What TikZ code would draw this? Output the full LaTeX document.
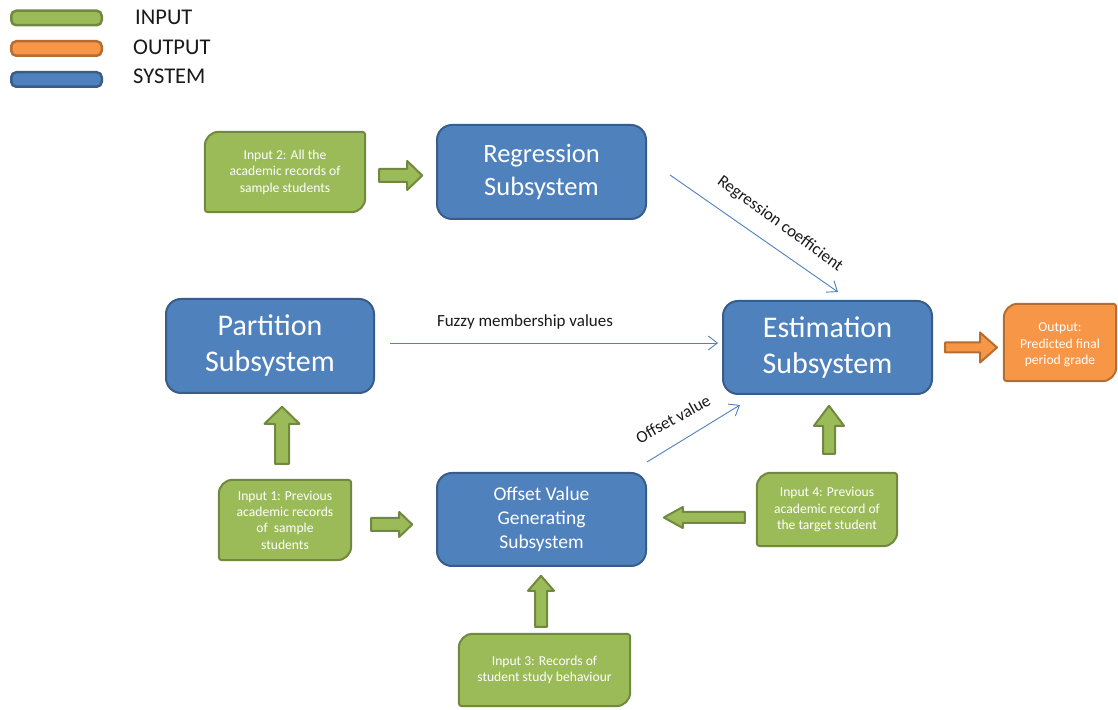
\documentclass[tikz,border=0pt]{standalone}
\usepackage{fontspec}
\setmainfont{Carlito}
\usetikzlibrary{arrows.meta,calc,backgrounds}
\definecolor{sysfill}{HTML}{4F81BD}
\definecolor{sysline}{HTML}{385D8A}
\definecolor{infill}{HTML}{9BBB59}
\definecolor{inline}{HTML}{71893F}
\definecolor{outfill}{HTML}{F79646}
\definecolor{outline}{HTML}{B66D31}
\definecolor{connc}{HTML}{4F81BD}
\definecolor{txtc}{HTML}{1A1A1A}
% diagonal-rounded box drawn behind a named node
\newcommand\diagshape[2]{%
  \begin{pgfonlayer}{background}
  \draw[#2] ([yshift=-14pt]#1.north west) arc[start angle=180,end angle=90,radius=14pt]
    -- ([xshift=-3pt]#1.north east) arc[start angle=90,end angle=0,radius=3pt]
    -- ([yshift=14pt]#1.south east) arc[start angle=0,end angle=-90,radius=14pt]
    -- ([xshift=3pt]#1.south west) arc[start angle=270,end angle=180,radius=3pt]
    -- cycle;
  \end{pgfonlayer}}
% block arrow: #1 style, #2 start, #3 angle, #4 length, #5 shaft half width, #6 head half width, #7 head length
\newcommand\blockarr[7]{%
  \begin{scope}[shift={#2},rotate=#3]
  \draw[#1] (0,-#5) -- ({#4-#7},-#5) -- ({#4-#7},-#6) -- (#4,0) -- ({#4-#7},#6) -- ({#4-#7},#5) -- (0,#5) -- cycle;
  \end{scope}}
\tikzset{
  sysbox/.style={draw=sysline, line width=2pt, fill=sysfill, rounded corners=15pt, text=white, align=center, inner sep=0pt},
  inbox/.style={text=white, align=center, inner sep=0pt, font=\fontsize{13.6}{16.4}\selectfont},
  inshp/.style={draw=inline, fill=infill, line width=2pt},
  outshp/.style={draw=outline, fill=outfill, line width=2pt},
  inarrow/.style={draw=inline, fill=infill, line width=2pt, line join=round},
  outarrow/.style={draw=outline, fill=outfill, line width=2pt, line join=round},
  flow/.style={draw=connc, line width=0.9pt, -{Straight Barb[length=9pt,width=14pt,line width=0.9pt]}},
  lbl/.style={text=txtc, inner sep=0pt, font=\fontsize{17}{20}\selectfont},
  legbar/.style={line width=2.5pt, rounded corners=5pt, minimum width=90.5pt, minimum height=14.5pt, inner sep=0pt},
  legtext/.style={text=txtc, inner sep=0pt, font=\fontsize{22.5}{27}\selectfont}
}
\begin{document}
\begin{tikzpicture}[x=1pt,y=1pt]
\useasboundingbox (0,0) rectangle (1118,709);
\begin{pgfonlayer}{background}
\fill[white] (0,0) rectangle (1118,709);
\end{pgfonlayer}

% legend
\node[legbar, draw=inline, fill=infill] (lg1) at (56.5,691) {};
\node[legbar, draw=outline, fill=outfill] (lg2) at (56.5,660.5) {};
\node[legbar, draw=sysline, fill=sysfill] (lg3) at (56.5,629.5) {};
\node[legtext, anchor=base west] (lt1) at (135,684) {INPUT};
\node[legtext, anchor=base west] (lt2) at (133,654) {OUTPUT};
\node[legtext, anchor=base west] (lt3) at (133,625) {SYSTEM};

% system boxes
\node[sysbox, minimum width=209pt, minimum height=94pt, font=\fontsize{26.5}{33}\selectfont] (reg) at (541.5,537) {Regression\\Subsystem};
\node[sysbox, minimum width=208pt, minimum height=94pt, font=\fontsize{30}{36}\selectfont] (part) at (270,363) {Partition\\Subsystem};
\node[sysbox, minimum width=209pt, minimum height=93pt, font=\fontsize{30}{36}\selectfont] (est) at (827.5,361.5) {Estimation\\Subsystem};
\node[sysbox, minimum width=209pt, minimum height=93pt, font=\fontsize{19.5}{24}\selectfont] (off) at (541.5,189.5) {Offset Value\\Generating\\Subsystem};

% input / output boxes
\node[inbox, minimum width=160pt, minimum height=80pt] (in2) at (285,537) {Input 2: All the\\academic records of\\sample students};
\diagshape{in2}{inshp}
\node[inbox, minimum width=132pt, minimum height=80pt] (in1) at (285,189) {Input 1: Previous\\academic records\\of\ \ sample\\students};
\diagshape{in1}{inshp}
\node[inbox, minimum width=171pt, minimum height=72pt] (in3) at (544.5,39) {Input 3: Records of\\student study behaviour};
\diagshape{in3}{inshp}
\node[inbox, minimum width=140pt, minimum height=73pt] (in4) at (827,199.5) {Input 4: Previous\\academic record of\\the target student};
\diagshape{in4}{inshp}
\node[inbox, minimum width=112pt, minimum height=77pt] (outp) at (1060,366.5) {};
\node[inbox] (outt) at (1060,364) {Output:\\Predicted final\\period grade};
\diagshape{outp}{outshp}

% block arrows
\blockarr{inarrow}{($(in2.east)+(14,-3.5)$)}{0}{43}{6.5}{14.5}{15}
\blockarr{inarrow}{($(in1.north)+(-3,16)$)}{90}{57}{7}{17.5}{17}
\blockarr{inarrow}{($(in1.east)+(20,-4.5)$)}{0}{41}{6.5}{12.5}{13}
\blockarr{inarrow}{($(in3.north)+(-3.5,7)$)}{90}{51}{6}{13}{15}
\blockarr{inarrow}{($(in4.west)+(-12,-8)$)}{180}{81}{5.5}{10.5}{19}
\blockarr{inarrow}{($(in4.north)+(2,19)$)}{90}{48}{6}{15}{20}
\blockarr{outarrow}{($(est.east)+(12,0)$)}{0}{52}{5}{15}{17}

% thin connectors
\draw[flow] ($(reg.east)+(23,-3)$) -- ($(est.north)+(10.5,8)$);
\draw[flow] ($(part.east)+(15,3)$) -- ($(est.west)+(-4,4.5)$);
\draw[flow] ($(off.north east)+(0,10)$) -- ($(est.south west)+(18,-10)$);

% labels
\node[lbl] (lf) at (525,387) {Fuzzy membership values};
\node[lbl, rotate=-36] (lr) at (780,485) {Regression coefficient};
\node[lbl, rotate=29] (lo) at (673,290) {Offset value};
\end{tikzpicture}
\end{document}
